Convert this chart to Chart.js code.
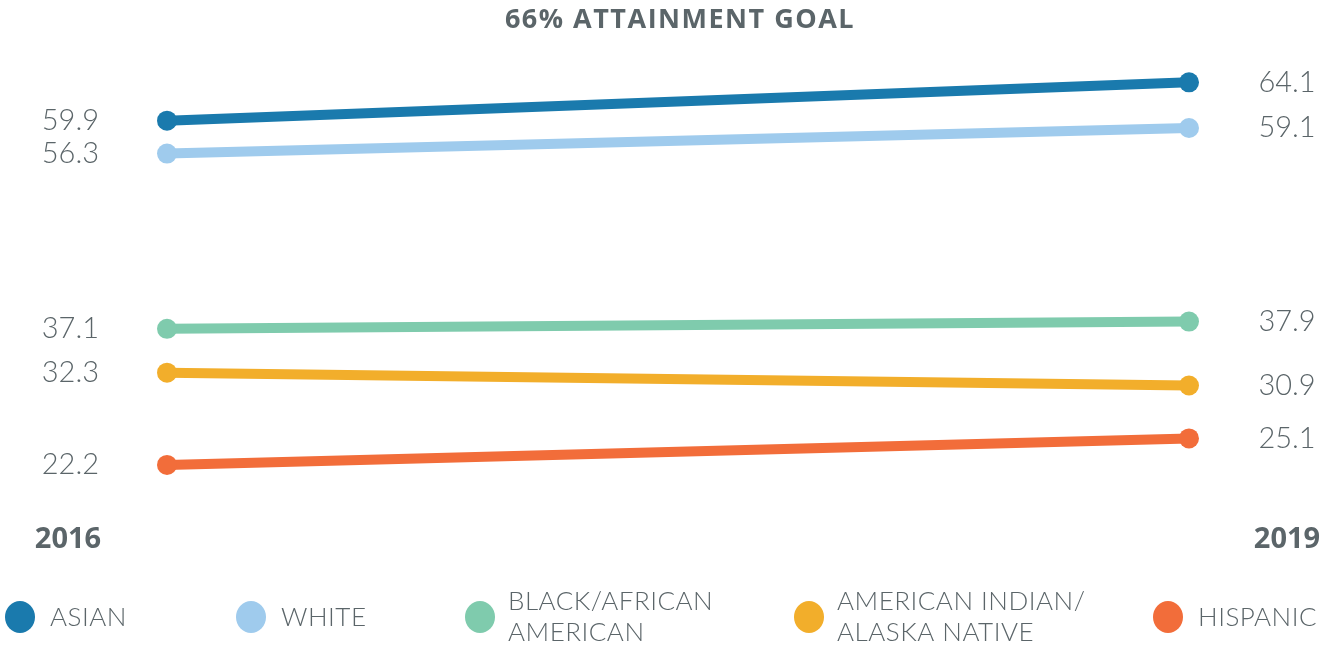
<!DOCTYPE html>
<html>
<head>
<meta charset="utf-8">
<script src="https://cdn.jsdelivr.net/npm/chart.js@4.4.1/dist/chart.umd.min.js"></script>
<style>
  html, body { margin: 0; padding: 0; background: #fff; }
  #wrap { width: 1334px; height: 647px; }
</style>
</head>
<body>
<div id="wrap"><canvas id="chart" width="1334" height="647"></canvas></div>
<script>
// data
const years = ["2016", "2019"];
const seriesNames = [
  ["ASIAN"],
  ["WHITE"],
  ["BLACK/AFRICAN", "AMERICAN"],
  ["AMERICAN INDIAN/", "ALASKA NATIVE"],
  ["HISPANIC"],
];
const asian = [59.9, 64.1];
const white = [56.3, 59.1];
const black = [37.1, 37.9];
const amIndian = [32.3, 30.9];
const hispanic = [22.2, 25.1];
const colors = ["#1a7aad", "#9fcbed", "#7fcbad", "#f2ae2b", "#f26d3a"];
const title = "66% ATTAINMENT GOAL";

const textGray = "#5b6569";

// legend circle centres (x) for each entry
const legendX = [20, 251, 480, 809, 1168];

const labelsPlugin = {
  id: "slopeLabels",
  afterDraw(chart) {
    const ctx = chart.ctx;
    ctx.save();
    ctx.fillStyle = textGray;

    // title
    ctx.font = "bold 27px 'Open Sans'";
    ctx.letterSpacing = "1.5px";
    ctx.textAlign = "center";
    ctx.textBaseline = "middle";
    ctx.fillText(title, 680, 20);
    ctx.letterSpacing = "0px";

    // value labels at both ends
    ctx.font = "300 29px Lato";
    chart.data.datasets.forEach((ds, i) => {
      const meta = chart.getDatasetMeta(i);
      const p0 = meta.data[0];
      const p1 = meta.data[1];
      ctx.textAlign = "right";
      ctx.fillText(ds.data[0].toFixed(1), 99, p0.y);
      ctx.textAlign = "center";
      ctx.fillText(ds.data[1].toFixed(1), 1287, p1.y);
    });

    // year labels
    ctx.font = "bold 29px 'Open Sans'";
    ctx.textAlign = "center";
    ctx.fillText(years[0], 68, 540);
    ctx.fillText(years[1], 1287, 540);

    // legend
    ctx.font = "300 26px Lato";
    ctx.letterSpacing = "0.5px";
    ctx.textAlign = "left";
    seriesNames.forEach((lines, i) => {
      const cx = legendX[i];
      ctx.fillStyle = colors[i];
      ctx.beginPath();
      ctx.ellipse(cx, 617, 15, 16, 0, 0, Math.PI * 2);
      ctx.fill();
      ctx.fillStyle = textGray;
      if (lines.length === 1) {
        ctx.fillText(lines[0], cx + 30, 618);
      } else {
        ctx.fillText(lines[0], cx + 28, 602);
        ctx.fillText(lines[1], cx + 28, 633);
      }
    });
    ctx.restore();
  },
};

function makeDataset(data, i) {
  return {
    label: seriesNames[i].join(" "),
    data: data,
    borderColor: colors[i],
    backgroundColor: colors[i],
    pointBackgroundColor: colors[i],
    pointBorderWidth: 0,
    pointRadius: 10,
    pointHoverRadius: 10,
    borderWidth: 10,
    tension: 0,
    clip: false,
  };
}

const ctx = document.getElementById("chart").getContext("2d");
const chart = new Chart(ctx, {
  type: "line",
  data: {
    labels: years,
    datasets: [asian, white, black, amIndian, hispanic].map(makeDataset),
  },
  options: {
    responsive: false,
    animation: false,
    layout: {
      padding: { left: 167, right: 145, top: 65, bottom: 162 },
    },
    plugins: {
      legend: { display: false },
      tooltip: { enabled: false },
      title: { display: false },
    },
    scales: {
      x: {
        type: "category",
        offset: false,
        display: false,
      },
      y: {
        min: 20,
        max: 66,
        display: false,
      },
    },
  },
  plugins: [labelsPlugin],
});
</script>
</body>
</html>
